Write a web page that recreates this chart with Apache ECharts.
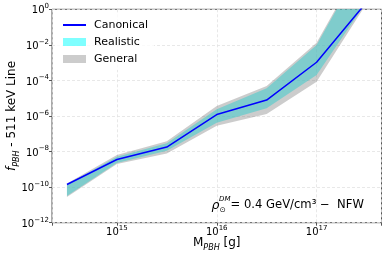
<!DOCTYPE html>
<html><head><meta charset="utf-8">
<script src="https://cdn.jsdelivr.net/npm/echarts@6/dist/echarts.min.js"></script>
<style>html,body{margin:0;padding:0;background:#fff}#c{width:386px;height:258px}</style>
</head><body><div id="c"></div>
<script>
const masses = [3.16e14, 1e15, 3.16e15, 1e16, 3.16e16, 1e17, 3.16e17];
const canonical = [1.4e-10, 3.6e-9, 1.8e-8, 1.2e-6, 7.9e-6, 1.05e-3, 2.5];
const realisticLow = [3.2e-11, 2.3e-9, 1.1e-8, 4.2e-7, 2.7e-6, 2.0e-4, 2.6];
const realisticHigh = [1.4e-10, 5.1e-9, 2.9e-8, 2.4e-6, 3.6e-5, 9.8e-3, 1e3];
const generalLow = [2.8e-11, 2.0e-9, 7.9e-9, 2.8e-7, 1.3e-6, 8.5e-5, 2.1];
const generalHigh = [1.6e-10, 6.5e-9, 3.8e-8, 3.6e-6, 4.9e-5, 1.3e-2, 1.3e3];
const xTickExps = [15, 16, 17];
const yTickExps = [0, -2, -4, -6, -8, -10, -12];

const FONT = 'DejaVu Sans';
function expLabel(list) {
  return function (v) {
    const l = Math.log10(v);
    const e = Math.round(l);
    if (Math.abs(l - e) > 1e-6 || list.indexOf(e) < 0) return '';
    return '{b|10}{s|' + String(e).replace('-', '\u2212') + '}';
  };
}
const labelRich = {
  b: {fontSize: 10, fontFamily: FONT, color: '#000', lineHeight: 13, verticalAlign: 'bottom'},
  s: {fontSize: 7, fontFamily: FONT, color: '#000', lineHeight: 9, verticalAlign: 'top'}
};

function bandSeries(name, lo, hi, color, z) {
  return {
    type: 'custom', name: name, z: z, clip: true,
    itemStyle: {color: color},
    data: masses.map((m, i) => [m, lo[i], hi[i]]),
    encode: {x: 0, y: [1, 2]},
    renderItem: function (params, api) {
      if (params.dataIndex !== 0) return null;
      const pts = [];
      for (let i = 0; i < masses.length; i++) pts.push(api.coord([masses[i], hi[i]]));
      for (let i = masses.length - 1; i >= 0; i--) pts.push(api.coord([masses[i], lo[i]]));
      return {type: 'polygon', shape: {points: pts}, style: {fill: color, stroke: null}};
    }
  };
}

const chart = echarts.init(document.getElementById('c'), null, {renderer: 'canvas'});
chart.setOption({
  animation: false,
  grid: {left: 52, right: 4.5, top: 9.3, bottom: 35.3, show: true, borderColor: '#555', borderWidth: 1, backgroundColor: 'transparent', outerBoundsMode: 'none'},
  legend: {
    left: 56, top: 14, orient: 'vertical', itemWidth: 23, itemHeight: 8, itemGap: 3,
    padding: [4, 6, 4, 6], backgroundColor: 'rgba(255,255,255,0.8)',
    textStyle: {fontSize: 11, fontFamily: FONT, color: '#000', lineHeight: 14, padding: [0, 0, 0, 3]},
    data: [{name: 'Canonical', itemStyle: {opacity: 0}}, {name: 'Realistic', icon: 'rect'}, {name: 'General', icon: 'rect'}]
  },
  xAxis: {
    type: 'log', logBase: 10, min: 2.2387e14, max: 4.4668e17,
    name: '{m|M}{sub|PBH}{m| [g]}', nameLocation: 'middle', nameGap: 14, nameMoveOverlap: false,
    nameTextStyle: {rich: {
      m: {fontSize: 12, fontFamily: FONT, color: '#000', lineHeight: 15, verticalAlign: 'top'},
      sub: {fontSize: 8, fontFamily: FONT, fontStyle: 'italic', color: '#000', lineHeight: 13, verticalAlign: 'bottom'}
    }},
    axisLine: {show: false},
    axisTick: {show: true, inside: false, length: 3, lineStyle: {color: '#555'}},
    axisLabel: {formatter: expLabel(xTickExps), rich: labelRich, margin: 2, showMinLabel: true, showMaxLabel: true},
    splitLine: {show: true, lineStyle: {color: '#e2e2e2', type: [3, 2], width: 0.8}}
  },
  yAxis: {
    type: 'log', logBase: 10, min: 1e-12, max: 1, interval: 2,
    name: '{i|f}{sub|PBH}{t| - 511 keV Line}', nameLocation: 'middle', nameGap: 31, nameMoveOverlap: false,
    nameTextStyle: {rich: {
      i: {fontSize: 12, fontFamily: FONT, fontStyle: 'italic', color: '#000', lineHeight: 15, verticalAlign: 'top'},
      sub: {fontSize: 8, fontFamily: FONT, fontStyle: 'italic', color: '#000', lineHeight: 13, verticalAlign: 'bottom'},
      t: {fontSize: 12, fontFamily: FONT, color: '#000', lineHeight: 15, verticalAlign: 'top'}
    }},
    axisLine: {show: false},
    axisTick: {show: true, inside: false, length: 3, lineStyle: {color: '#555'}},
    axisLabel: {formatter: expLabel(yTickExps), rich: labelRich, margin: 3},
    splitLine: {show: true, lineStyle: {color: '#e2e2e2', type: [3, 2], width: 0.8}}
  },
  graphic: [
    {type: 'text', left: 211.5, top: 199, z: 10, style: {text: 'ρ', font: 'italic 12.5px "DejaVu Sans"', fill: '#000'}},
    {type: 'text', left: 219, top: 196, z: 10, style: {text: 'DM', font: 'italic 7px "DejaVu Sans"', fill: '#000'}},
    {type: 'text', left: 219.5, top: 206.5, z: 10, style: {text: '⊙', font: '7.5px "DejaVu Sans"', fill: '#000'}},
    {type: 'text', left: 230.5, top: 199, z: 10, style: {text: '= 0.4 GeV/cm³ \u2212  NFW', font: '11.6px "DejaVu Sans"', fill: '#000'}}
  ],
  series: [
    bandSeries('Realistic', realisticLow, realisticHigh, 'rgba(0,255,255,0.5)', 1),
    bandSeries('General', generalLow, generalHigh, 'rgba(128,128,128,0.4)', 2),
    {type: 'line', name: 'Canonical', z: 3, data: masses.map((m, i) => [m, canonical[i]]),
     symbol: 'none', clip: true, itemStyle: {color: '#0000ff'}, lineStyle: {color: '#0000ff', width: 1.5}}
  ]
});
</script></body></html>
